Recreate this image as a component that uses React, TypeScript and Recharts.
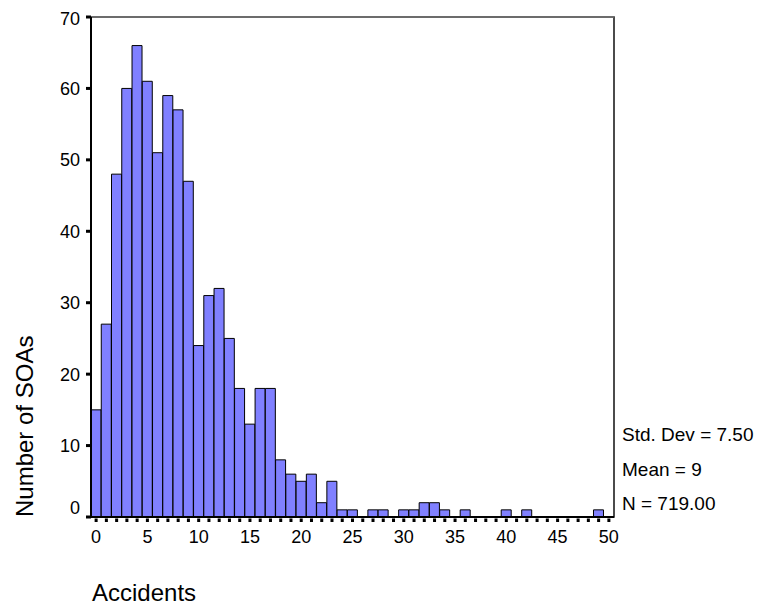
import React from "react";
import { BarChart, Bar, XAxis, YAxis, ReferenceLine, ReferenceArea } from "recharts";

// histogram bins (accidents per SOA) and their counts
const bins = [
  0, 1, 2, 3, 4, 5, 6, 7, 8, 9, 10, 11, 12, 13, 14, 15, 16, 17, 18, 19, 20, 21,
  22, 23, 24, 25, 26, 27, 28, 29, 30, 31, 32, 33, 34, 35, 36, 37, 38, 39, 40, 41,
  42, 43, 44, 45, 46, 47, 48, 49, 50,
];
const counts = [
  15, 27, 48, 60, 66, 61, 51, 59, 57, 47, 24, 31, 32, 25, 18, 13, 18, 18, 8, 6, 5,
  6, 2, 5, 1, 1, 0, 1, 1, 0, 1, 1, 2, 2, 1, 0, 1, 0, 0, 0, 1, 0, 1, 0, 0, 0, 0, 0,
  0, 1, 0,
];
const xLabels = [0, 5, 10, 15, 20, 25, 30, 35, 40, 45, 50];
const yTicks = [0, 10, 20, 30, 40, 50, 60, 70];
const stats = ["Std. Dev = 7.50", "Mean = 9", "N = 719.00"];

const FONT = "'Liberation Sans', Arial, Helvetica, sans-serif";

const data = bins.map((b, i) => ({ bin: b, count: counts[i] }));

function XTick({ x, y, payload }: { x?: number; y?: number; payload?: { value: number } }) {
  const v = Number(payload?.value);
  const cx = x ?? 0;
  const cy = y ?? 0;
  return (
    <g>
      <rect x={cx - 1.5} y={cy + 1.5} width={3} height={3.5} fill="#000" />
      {xLabels.includes(v) && (
        <text
          x={cx}
          y={cy + 26}
          textAnchor="middle"
          fontSize={18}
          fontFamily={FONT}
          fill="#000"
        >
          {v}
        </text>
      )}
    </g>
  );
}

function YTick({ x, y, payload }: { x?: number; y?: number; payload?: { value: number } }) {
  const v = Number(payload?.value);
  const cx = x ?? 0;
  const cy = y ?? 0;
  // the zero label sits a little above its tick
  const ly = v === 0 ? cy - 9 : v === 70 ? cy + 2 : cy;
  return (
    <g>
      <rect x={cx - 5} y={cy - 1.5} width={5} height={3} fill="#000" />
      <text
        x={cx - 11}
        y={ly}
        dy="0.36em"
        textAnchor="end"
        fontSize={18}
        fontFamily={FONT}
        fill="#000"
      >
        {v}
      </text>
    </g>
  );
}

export default function App() {
  return (
    <div style={{ position: "absolute", left: 0, top: 0, width: 763, height: 605, background: "#fff" }}>
      <BarChart
        width={763}
        height={605}
        data={data}
        margin={{ top: 17, right: 149, bottom: 0, left: 0 }}
        barCategoryGap={0}
        barGap={0}
      >
        {/* frame: right side dark, top grey */}
        <ReferenceArea
          x1={0}
          x2={50}
          y1={0}
          y2={70}
          fill="none"
          fillOpacity={0}
          stroke="#111"
          strokeWidth={1.5}
          strokeOpacity={1}
        />
        <ReferenceLine y={70} stroke="#777" strokeWidth={1.5} />
        <XAxis
          dataKey="bin"
          type="category"
          interval={0}
          height={88}
          tickSize={0}
          tickMargin={0}
          tickLine={false}
          axisLine={{ stroke: "#000", strokeWidth: 2 }}
          tick={<XTick />}
        />
        <YAxis
          domain={[0, 70]}
          ticks={yTicks}
          width={91}
          tickSize={0}
          tickMargin={0}
          tickLine={false}
          axisLine={{ stroke: "#000", strokeWidth: 2 }}
          tick={<YTick />}
          allowDataOverflow
        />
        <Bar
          dataKey="count"
          fill="#8080ff"
          stroke="#000"
          strokeWidth={1}
          isAnimationActive={false}
        />
      </BarChart>
      <svg
        width={763}
        height={605}
        style={{ position: "absolute", left: 0, top: 0, pointerEvents: "none" }}
      >
        <text
          transform="translate(33,517) rotate(-90)"
          fontSize={24}
          fontFamily={FONT}
          fill="#000"
        >
          Number of SOAs
        </text>
        <text x={92} y={601} fontSize={24} fontFamily={FONT} fill="#000">
          Accidents
        </text>
        {stats.map((s, i) => (
          <text
            key={s}
            x={622}
            y={[441, 476, 510][i]}
            fontSize={19}
            fontFamily={FONT}
            fill="#000"
          >
            {s}
          </text>
        ))}
      </svg>
    </div>
  );
}
